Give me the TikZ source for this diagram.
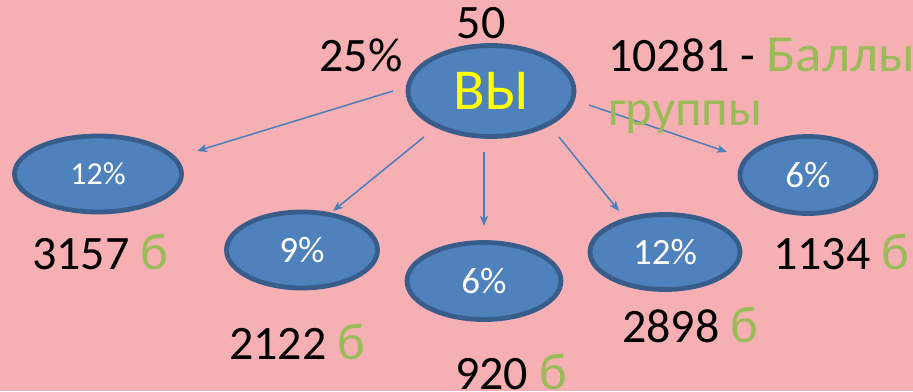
\documentclass[tikz,border=0pt]{standalone}
\usepackage{fontspec}
\setmainfont{Carlito}
\newfontfamily\widefont[FakeStretch=1.06]{Carlito}
\usetikzlibrary{shapes.geometric,arrows.meta}
\definecolor{bgpink}{HTML}{F6B0B4}
\definecolor{fillblue}{HTML}{4F81BD}
\definecolor{edgeblue}{HTML}{385D8A}
\definecolor{grn}{HTML}{9BBB59}
\definecolor{lineblue}{HTML}{4A7EBB}
\definecolor{yel}{HTML}{FFFF00}
\tikzset{
 every node/.style={inner sep=0pt,outer sep=0pt},
 oval/.style={ellipse,draw=edgeblue,line width=4.8pt,fill=fillblue,text=white,font=\fontsize{37}{37}\selectfont},
 lab/.style={font=\fontsize{48}{48}\selectfont,text=black,anchor=center},
 conn/.style={draw=lineblue,line width=1.5pt,-{Stealth[length=10pt,width=8pt,inset=2.5pt]}}
}
\newcommand{\bb}{{\fontsize{52}{52}\selectfont\color{grn}б}}
\begin{document}
\begin{tikzpicture}[x=1pt,y=-1pt]
\path[fill=bgpink,use as bounding box] (0,0) rectangle (913,391);
\node[oval,minimum width=166pt,minimum height=91pt,text=yel,font=\fontsize{58}{58}\selectfont] (you) at (491,91) {ВЫ};
\node[oval,minimum width=167pt,minimum height=76pt,font=\fontsize{32}{32}\selectfont] (a) at (98,174) {12\%};
\node[oval,minimum width=151pt,minimum height=76pt] (b) at (302,250) {9\%};
\node[oval,minimum width=154pt,minimum height=77pt] (c) at (484,281) {6\%};
\node[oval,minimum width=150pt,minimum height=75pt] (d) at (665,252) {12\%};
\node[oval,minimum width=136pt,minimum height=77pt] (e) at (808,175) {6\%};
\coordinate (s1) at (393,91);
\coordinate (s2) at (424,137);
\coordinate (s3) at (484,152);
\coordinate (s4) at (559,137);
\coordinate (s5) at (589,105);
\coordinate (t1) at (197,151);
\coordinate (t2) at (333,211);
\coordinate (t3) at (484,226);
\coordinate (t4) at (619,211);
\coordinate (t5) at (727,152);
\draw[conn] (s1) -- (t1);
\draw[conn] (s2) -- (t2);
\draw[conn] (s3) -- (t3);
\draw[conn] (s4) -- (t4);
\draw[conn] (s5) -- (t5);
\node[lab] (n50) at (481,23) {50};
\node[lab] (n25) at (361,55) {25\%};
\node[lab,anchor=west] (pts) at (608,55) {10281 - {\widefont\fontsize{52}{52}\selectfont\color{grn}Баллы}};
\node[lab,anchor=west,font=\fontsize{51}{51}\selectfont] (grp) at (608,117) {\color{grn}группы};
\node[lab] (la) at (100,252) {3157 \bb};
\node[lab] (lb) at (297,342) {2122 \bb};
\node[lab] (lc) at (511,372) {920 \bb};
\node[lab] (ld) at (690,325) {2898 \bb};
\node[lab] (le) at (841,252) {1134 \bb};
\end{tikzpicture}
\end{document}
